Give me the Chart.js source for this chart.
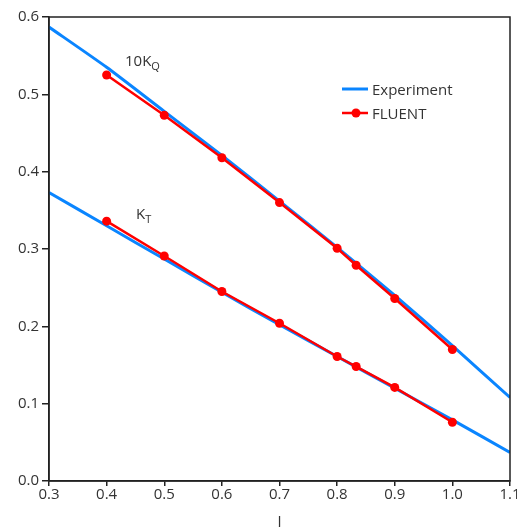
<!DOCTYPE html>
<html lang="en">
<head>
  <meta charset="UTF-8" />
  <title>KT / 10KQ vs J</title>
  <script src="https://cdn.jsdelivr.net/npm/chart.js@4.4.1/dist/chart.umd.min.js"></script>
  <style>
    html, body { margin: 0; padding: 0; background: #fff; overflow: hidden; }
    #wrap { width: 517px; height: 527px; overflow: hidden; }
  </style>
</head>
<body>
  <div id="wrap"><canvas id="chart" width="540" height="527"></canvas></div>

  <script>
    // experiment curves
    const expJ = [0.3, 0.4, 0.5, 0.6, 0.7, 0.8, 0.9, 1.0, 1.1];
    const expKQ10 = [0.587, 0.535, 0.478, 0.421, 0.362, 0.302, 0.240, 0.175, 0.108];
    const expKT = [0.373, 0.330, 0.287, 0.244, 0.202, 0.161, 0.120, 0.079, 0.037];

    // FLUENT points
    const cfdJ = [0.4, 0.5, 0.6, 0.7, 0.8, 0.833, 0.9, 1.0];
    const cfdKQ10 = [0.525, 0.473, 0.418, 0.360, 0.301, 0.279, 0.236, 0.170];
    const cfdKT = [0.336, 0.291, 0.245, 0.204, 0.161, 0.148, 0.121, 0.076];

    const xTicks = [0.3, 0.4, 0.5, 0.6, 0.7, 0.8, 0.9, 1.0, 1.1];
    const yTicks = [0.0, 0.1, 0.2, 0.3, 0.4, 0.5, 0.6];

    const BLUE = '#0a85ff';
    const RED = '#ff0000';
    const FONT = '"Open Sans", sans-serif';

    const pts = (xs, ys) => xs.map((x, i) => ({ x, y: ys[i] }));

    const expStyle = { borderColor: BLUE, borderWidth: 3, pointRadius: 0, tension: 0.2, order: 2 };
    const cfdStyle = { borderColor: RED, backgroundColor: RED, borderWidth: 2.5, pointRadius: 4.5, pointBorderWidth: 0, tension: 0, order: 1 };

    // box, in-plot legend and curve labels
    const extras = {
      id: 'extras',
      afterDraw(chart) {
        const { ctx, chartArea: a } = chart;
        ctx.save();
        ctx.strokeStyle = '#222';
        ctx.lineWidth = 1.5;
        ctx.strokeRect(a.left, a.top, a.right - a.left, a.bottom - a.top);

        ctx.fillStyle = '#333';
        ctx.textBaseline = 'alphabetic';
        ctx.font = '15px ' + FONT;

        // legend
        ctx.lineWidth = 3;
        ctx.strokeStyle = BLUE;
        ctx.beginPath(); ctx.moveTo(342, 89); ctx.lineTo(368, 89); ctx.stroke();
        ctx.fillText('Experiment', 372, 95);
        ctx.lineWidth = 2.5;
        ctx.strokeStyle = RED;
        ctx.beginPath(); ctx.moveTo(342, 113); ctx.lineTo(368, 113); ctx.stroke();
        ctx.fillStyle = RED;
        ctx.beginPath(); ctx.arc(356, 113, 4.5, 0, Math.PI * 2); ctx.fill();
        ctx.fillStyle = '#333';
        ctx.fillText('FLUENT', 372, 119);

        // curve labels
        const lab = (main, sub, px, py) => {
          ctx.font = '15px ' + FONT;
          ctx.fillText(main, px, py);
          const w = ctx.measureText(main).width;
          ctx.font = '11px ' + FONT;
          ctx.fillText(sub, px + w, py + 4);
        };
        lab('10K', 'Q', 125, 66);
        lab('K', 'T', 136, 219);
        ctx.restore();
      }
    };

    new Chart(document.getElementById('chart'), {
      type: 'line',
      data: {
        datasets: [
          { label: 'Experiment', data: pts(expJ, expKQ10), ...expStyle },
          { label: 'FLUENT', data: pts(cfdJ, cfdKQ10), ...cfdStyle },
          { label: 'Experiment KT', data: pts(expJ, expKT), ...expStyle },
          { label: 'FLUENT KT', data: pts(cfdJ, cfdKT), ...cfdStyle }
        ]
      },
      options: {
        responsive: false,
        animation: false,
        layout: { padding: { top: 17, right: 30, left: 0, bottom: 0 } },
        plugins: { legend: { display: false }, tooltip: { enabled: false } },
        scales: {
          x: {
            type: 'linear',
            min: 0.3, max: 1.1,
            afterBuildTicks: s => { s.ticks = xTicks.map(v => ({ value: v })); },
            afterFit: s => { s.height = 46; },
            ticks: { color: '#333', font: { family: FONT, size: 15 }, padding: 0, maxRotation: 0,
              callback: v => v.toFixed(1) },
            grid: { drawOnChartArea: false, tickLength: 5, color: '#222', lineWidth: 1.5 },
            border: { color: '#222', width: 1.5 },
            title: { display: true, text: 'J', color: '#333', font: { family: FONT, size: 15 }, padding: { top: 0, bottom: -4 } }
          },
          y: {
            min: 0, max: 0.6,
            afterBuildTicks: s => { s.ticks = yTicks.map(v => ({ value: v })); },
            afterFit: s => { s.width = 49; },
            ticks: { color: '#333', font: { family: FONT, size: 15 }, padding: 3,
              callback: v => v.toFixed(1) },
            grid: { drawOnChartArea: false, tickLength: 7, color: '#222', lineWidth: 1.5 },
            border: { color: '#222', width: 1.5 }
          }
        }
      },
      plugins: [extras]
    });
  </script>
</body>
</html>
